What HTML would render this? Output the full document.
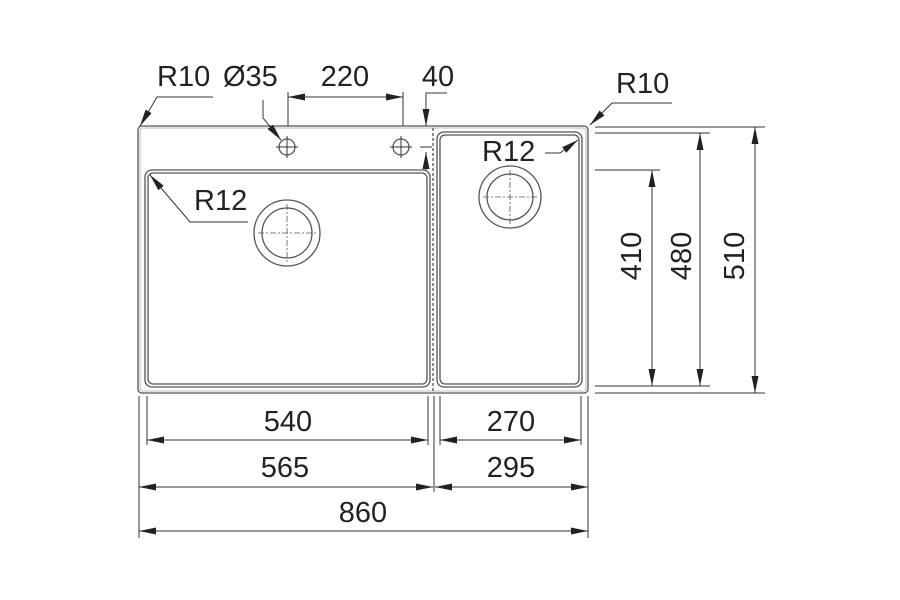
<!DOCTYPE html>
<html><head><style>body{margin:0;background:#fff}svg{display:block}</style></head>
<body>
<svg width="900" height="600" viewBox="0 0 900 600" xmlns="http://www.w3.org/2000/svg" font-family="Liberation Sans, Arial, sans-serif">
<defs>
<marker id="a" viewBox="0 0 17 7" refX="17" refY="3.5" markerWidth="17" markerHeight="7" markerUnits="userSpaceOnUse" orient="auto-start-reverse"><path d="M0,0 L17,3.5 L0,7 z" fill="#222"/></marker>
</defs>
<g fill="none" stroke="#555" stroke-width="1.3">
<rect x="138" y="126" width="450" height="267" rx="4"/>
<rect x="140" y="128" width="446" height="263" rx="3" stroke="#aaa" stroke-width="0.8"/>
<rect x="145" y="170" width="285" height="217" rx="7"/>
<rect x="148" y="173" width="279" height="211" rx="5"/>
<rect x="437" y="132" width="145" height="255" rx="7"/>
<rect x="440" y="135" width="139" height="249" rx="5"/>
<line x1="433" y1="128" x2="433" y2="391" stroke-dasharray="3,2"/>
<circle cx="287" cy="233" r="33"/><circle cx="287" cy="233" r="25"/>
<circle cx="510" cy="197" r="31"/><circle cx="510" cy="197" r="23"/>
<circle cx="287" cy="147" r="8"/><circle cx="401" cy="147" r="8"/>
</g>
<g stroke="#555" stroke-width="0.8" fill="none" stroke-dasharray="6,2,2,2">
<line x1="258" y1="233" x2="316" y2="233"/><line x1="287" y1="204" x2="287" y2="262"/>
<line x1="483" y1="197" x2="537" y2="197"/><line x1="510" y1="170" x2="510" y2="224"/>
</g>
<g stroke="#333" stroke-width="1" fill="none">
<line x1="276" y1="147" x2="298" y2="147"/><line x1="287" y1="136" x2="287" y2="158"/>
<line x1="390" y1="147" x2="412" y2="147"/><line x1="401" y1="136" x2="401" y2="158"/>
<line x1="420" y1="147" x2="432" y2="147"/>
<line x1="288" y1="92" x2="288" y2="126"/><line x1="403" y1="92" x2="403" y2="126"/>
<line x1="288" y1="97" x2="403" y2="97" marker-start="url(#a)" marker-end="url(#a)"/>
<polyline points="447,93 426,93 426,126" marker-end="url(#a)"/>
<line x1="426" y1="170" x2="426" y2="152" marker-end="url(#a)"/>
<polyline points="213,97 157,97 140,126" marker-end="url(#a)"/>
<polyline points="263,100 263,118 281,140" marker-end="url(#a)"/>
<polyline points="248,222 190,222 150,175" marker-end="url(#a)"/>
<polyline points="545,153 560,153 578,140" marker-end="url(#a)"/>
<polyline points="672,103 612,103 590,125" marker-end="url(#a)"/>
<line x1="139" y1="396" x2="139" y2="538"/>
<line x1="147" y1="396" x2="147" y2="445"/>
<line x1="428" y1="396" x2="428" y2="445"/>
<line x1="434" y1="396" x2="434" y2="492"/>
<line x1="440" y1="396" x2="440" y2="445"/>
<line x1="581" y1="396" x2="581" y2="445"/>
<line x1="588" y1="396" x2="588" y2="538"/>
<line x1="147" y1="440" x2="428" y2="440" marker-start="url(#a)" marker-end="url(#a)"/>
<line x1="440" y1="440" x2="581" y2="440" marker-start="url(#a)" marker-end="url(#a)"/>
<line x1="139" y1="487" x2="433" y2="487" marker-start="url(#a)" marker-end="url(#a)"/>
<line x1="435" y1="487" x2="588" y2="487" marker-start="url(#a)" marker-end="url(#a)"/>
<line x1="139" y1="531" x2="588" y2="531" marker-start="url(#a)" marker-end="url(#a)"/>
<line x1="595" y1="127" x2="765" y2="127"/>
<line x1="595" y1="133" x2="710" y2="133"/>
<line x1="595" y1="170" x2="660" y2="170"/>
<line x1="595" y1="386" x2="710" y2="386"/>
<line x1="595" y1="393" x2="765" y2="393"/>
<line x1="652" y1="170" x2="652" y2="386" marker-start="url(#a)" marker-end="url(#a)"/>
<line x1="700" y1="133" x2="700" y2="386" marker-start="url(#a)" marker-end="url(#a)"/>
<line x1="755" y1="127" x2="755" y2="393" marker-start="url(#a)" marker-end="url(#a)"/>
</g>
<g fill="#222" font-size="29">
<text x="157" y="86">R10</text>
<text x="223" y="86">Ø35</text>
<text x="345" y="86" text-anchor="middle">220</text>
<text x="438" y="86" text-anchor="middle">40</text>
<text x="616" y="93">R10</text>
<text x="194" y="210">R12</text>
<text x="482" y="161">R12</text>
<text x="288" y="431" text-anchor="middle">540</text>
<text x="511" y="431" text-anchor="middle">270</text>
<text x="285" y="477" text-anchor="middle">565</text>
<text x="511" y="477" text-anchor="middle">295</text>
<text x="363" y="522" text-anchor="middle">860</text>
<text transform="translate(641,256) rotate(-90)" text-anchor="middle">410</text>
<text transform="translate(691,256) rotate(-90)" text-anchor="middle">480</text>
<text transform="translate(744,256) rotate(-90)" text-anchor="middle">510</text>
</g>
</svg>
</body></html>
